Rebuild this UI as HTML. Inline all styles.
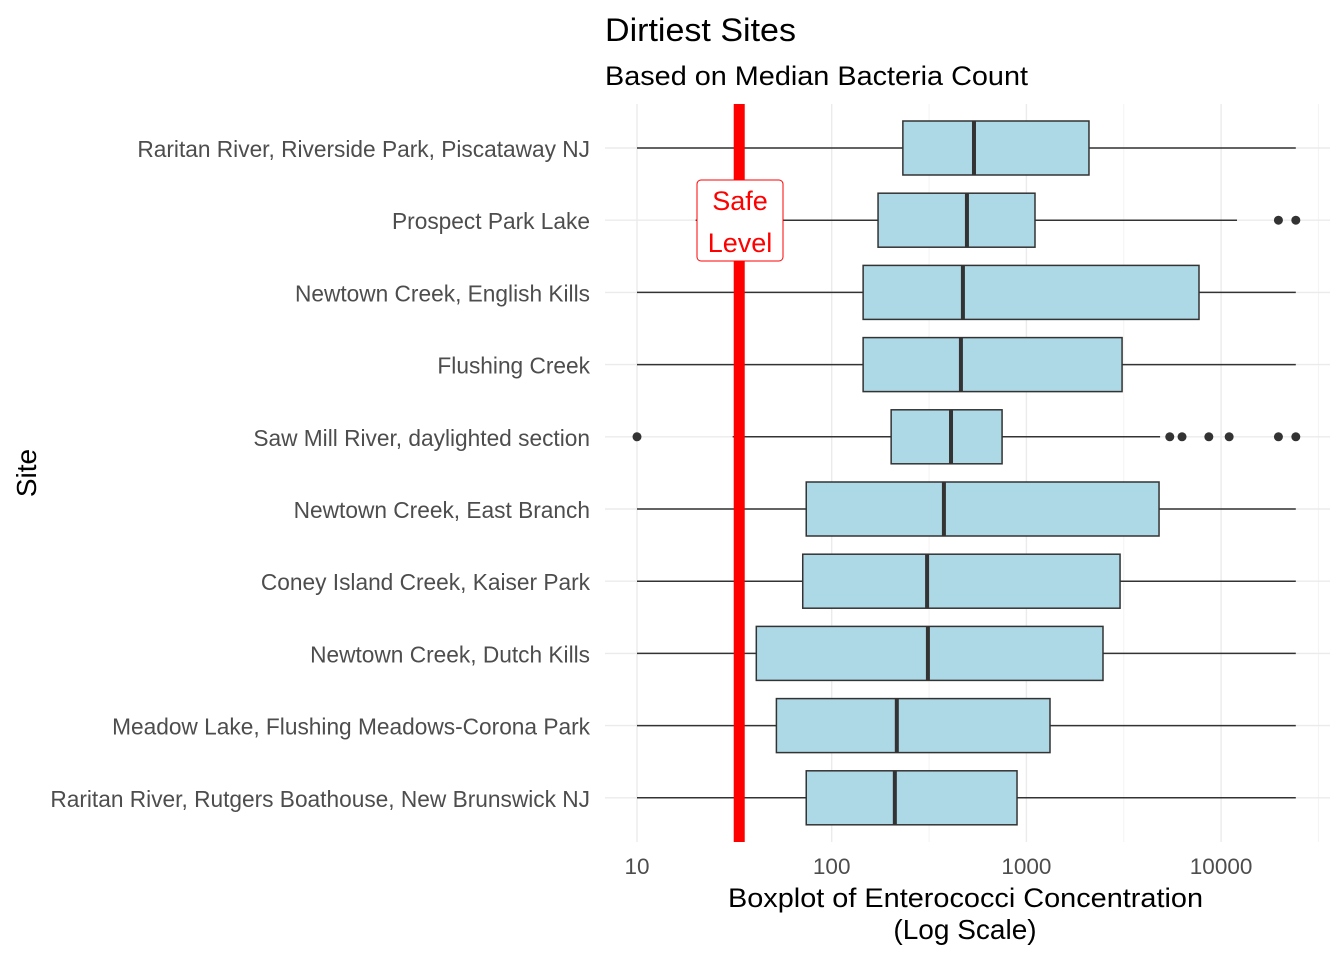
<!DOCTYPE html>
<html><head><meta charset="utf-8"><style>
body{margin:0;background:#fff;}
svg text{font-family:"Liberation Sans",Arial,sans-serif;}
</style></head><body>
<svg id="chart" width="1344" height="960" xmlns="http://www.w3.org/2000/svg">
<text x="605" y="41" font-size="32" textLength="191" lengthAdjust="spacingAndGlyphs" fill="#000">Dirtiest Sites</text>
<text x="605" y="85" font-size="27" textLength="423" lengthAdjust="spacingAndGlyphs" fill="#000">Based on Median Bacteria Count</text>
<g id="grid"></g>
<g id="boxes"></g>
<g id="ylabels"></g>
<g id="xlabels"></g>
<text x="728" y="907" font-size="27" textLength="475" lengthAdjust="spacingAndGlyphs" fill="#000">Boxplot of Enterococci Concentration</text>
<text x="965" y="939" font-size="28" text-anchor="middle" fill="#000">(Log Scale)</text>
<text transform="translate(36,473) rotate(-90)" font-size="28" text-anchor="middle" fill="#000">Site</text>
</svg>
<script>
const sites=["Raritan River, Riverside Park, Piscataway NJ","Prospect Park Lake","Newtown Creek, English Kills","Flushing Creek","Saw Mill River, daylighted section","Newtown Creek, East Branch","Coney Island Creek, Kaiser Park","Newtown Creek, Dutch Kills ","Meadow Lake, Flushing Meadows-Corona Park","Raritan River, Rutgers Boathouse, New Brunswick NJ"];
const whiskerLow=[10,20,10,10,31,10,10,10,10,10];
const q1=[232,173,145,145,202,74,71,41,52,74];
const median=[538,495,472,461,410,377,309,312,216,211];
const q3=[2096,1107,7700,3100,750,4800,3027,2474,1322,895];
const whiskerHigh=[24196,12070,24196,24196,4860,24196,24196,24196,24196,24196];
const outliers=[[],[19700,24196],[],[],[10,5450,6300,8650,11000,19700,24196],[],[],[],[],[]];
const xTicks=[10,100,1000,10000];
const safeLevel=33.5;
const NS="http://www.w3.org/2000/svg";
const x=v=>637+194.7*Math.log10(v/10);
const y=i=>148+i*72.2;
function mk(p,tag,at){const e=document.createElementNS(NS,tag);for(const k in at)e.setAttribute(k,at[k]);p.appendChild(e);return e;}
const grid=document.getElementById('grid'),boxes=document.getElementById('boxes'),yl=document.getElementById('ylabels'),xl=document.getElementById('xlabels');
xTicks.forEach((t,i)=>{
 let l=mk(grid,'line',{x1:x(t),x2:x(t),y1:104,y2:842,stroke:'#ebebeb','stroke-width':1.4});
 
 
 let m=mk(grid,'line',{x1:x(t*Math.sqrt(10)),x2:x(t*Math.sqrt(10)),y1:104,y2:842,stroke:'#f3f3f3','stroke-width':1});
 
 
 let tx=mk(xl,'text',{x:x(t),y:874,'font-size':22.5,'text-anchor':'middle',fill:'#4d4d4d'});tx.textContent=t;
 
 
});
sites.forEach((s,i)=>{
 const cy=y(i);
 let g=mk(grid,'line',{x1:605,x2:1330,y1:cy,y2:cy,stroke:'#ebebeb','stroke-width':1.4});
 
 
 let t=mk(yl,'text',{x:590,y:cy+9,'font-size':22.7,'text-anchor':'end',fill:'#4d4d4d'});t.textContent=s;
 
 
 let wl=mk(boxes,'line',{x1:x(whiskerLow[i]),x2:x(q1[i]),y1:cy,y2:cy,stroke:'#333','stroke-width':1.5});
 
 
 let wh=mk(boxes,'line',{x1:x(q3[i]),x2:x(whiskerHigh[i]),y1:cy,y2:cy,stroke:'#333','stroke-width':1.5});
 
 
 let b=mk(boxes,'rect',{x:x(q1[i]),y:cy-27,width:x(q3[i])-x(q1[i]),height:54,fill:'#add8e6',stroke:'#333','stroke-width':1.5});
 
 
 let md=mk(boxes,'line',{x1:x(median[i]),x2:x(median[i]),y1:cy-27,y2:cy+27,stroke:'#333','stroke-width':4});
 
 
 outliers[i].forEach(o=>{
  let c=mk(boxes,'circle',{cx:x(o),cy:cy,r:4.5,fill:'#333'});
  
  
 });
});
let sl=mk(boxes,'line',{x1:x(safeLevel),x2:x(safeLevel),y1:104,y2:842,stroke:'#ff0000','stroke-width':11});


let lb=mk(boxes,'rect',{x:697,y:180,width:86,height:81,rx:4,fill:'#fff',stroke:'#ff0000','stroke-width':1});


let t1=mk(boxes,'text',{x:740,y:210,'font-size':27,'text-anchor':'middle',fill:'#ff0000'});t1.textContent='Safe';


let t2=mk(boxes,'text',{x:740,y:252,'font-size':27,'text-anchor':'middle',fill:'#ff0000'});t2.textContent='Level';


</script>
</body></html>
